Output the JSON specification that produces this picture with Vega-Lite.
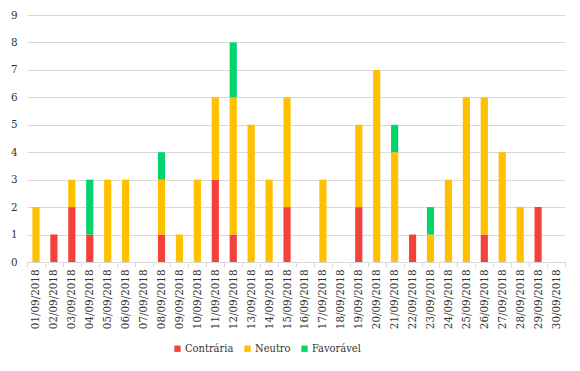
{
  "$schema": "https://vega.github.io/schema/vega-lite/v6.json",
  "width": 538,
  "height": 247,
  "autosize": {"type": "none"},
  "padding": {"left": 27, "top": 15, "right": 15, "bottom": 109},
  "background": "white",
  "config": {
    "view": {"stroke": null},
    "font": "DejaVu Serif Condensed",
    "axis": {"labelFont": "DejaVu Serif Condensed", "labelFontSize": 11.5, "labelColor": "#333333"},
    "legend": {"labelFont": "DejaVu Serif Condensed", "labelFontSize": 11, "labelColor": "#333333"}
  },
  "data": {
    "values": [
      {"date": "01/09/2018", "tipo": "Neutro", "n": 2},
      {"date": "02/09/2018", "tipo": "Contrária", "n": 1},
      {"date": "03/09/2018", "tipo": "Contrária", "n": 2},
      {"date": "03/09/2018", "tipo": "Neutro", "n": 1},
      {"date": "04/09/2018", "tipo": "Contrária", "n": 1},
      {"date": "04/09/2018", "tipo": "Favorável", "n": 2},
      {"date": "05/09/2018", "tipo": "Neutro", "n": 3},
      {"date": "06/09/2018", "tipo": "Neutro", "n": 3},
      {"date": "07/09/2018", "tipo": "Neutro", "n": 0},
      {"date": "08/09/2018", "tipo": "Contrária", "n": 1},
      {"date": "08/09/2018", "tipo": "Neutro", "n": 2},
      {"date": "08/09/2018", "tipo": "Favorável", "n": 1},
      {"date": "09/09/2018", "tipo": "Neutro", "n": 1},
      {"date": "10/09/2018", "tipo": "Neutro", "n": 3},
      {"date": "11/09/2018", "tipo": "Contrária", "n": 3},
      {"date": "11/09/2018", "tipo": "Neutro", "n": 3},
      {"date": "12/09/2018", "tipo": "Contrária", "n": 1},
      {"date": "12/09/2018", "tipo": "Neutro", "n": 5},
      {"date": "12/09/2018", "tipo": "Favorável", "n": 2},
      {"date": "13/09/2018", "tipo": "Neutro", "n": 5},
      {"date": "14/09/2018", "tipo": "Neutro", "n": 3},
      {"date": "15/09/2018", "tipo": "Contrária", "n": 2},
      {"date": "15/09/2018", "tipo": "Neutro", "n": 4},
      {"date": "16/09/2018", "tipo": "Neutro", "n": 0},
      {"date": "17/09/2018", "tipo": "Neutro", "n": 3},
      {"date": "18/09/2018", "tipo": "Neutro", "n": 0},
      {"date": "19/09/2018", "tipo": "Contrária", "n": 2},
      {"date": "19/09/2018", "tipo": "Neutro", "n": 3},
      {"date": "20/09/2018", "tipo": "Neutro", "n": 7},
      {"date": "21/09/2018", "tipo": "Neutro", "n": 4},
      {"date": "21/09/2018", "tipo": "Favorável", "n": 1},
      {"date": "22/09/2018", "tipo": "Contrária", "n": 1},
      {"date": "23/09/2018", "tipo": "Neutro", "n": 1},
      {"date": "23/09/2018", "tipo": "Favorável", "n": 1},
      {"date": "24/09/2018", "tipo": "Neutro", "n": 3},
      {"date": "25/09/2018", "tipo": "Neutro", "n": 6},
      {"date": "26/09/2018", "tipo": "Contrária", "n": 1},
      {"date": "26/09/2018", "tipo": "Neutro", "n": 5},
      {"date": "27/09/2018", "tipo": "Neutro", "n": 4},
      {"date": "28/09/2018", "tipo": "Neutro", "n": 2},
      {"date": "29/09/2018", "tipo": "Contrária", "n": 2},
      {"date": "30/09/2018", "tipo": "Neutro", "n": 0}
    ]
  },
  "transform": [
    {"calculate": "indexof(['Contrária','Neutro','Favorável'], datum.tipo)", "as": "ord"}
  ],
  "mark": {"type": "bar", "width": {"band": 0.4}},
  "encoding": {
    "x": {
      "field": "date",
      "type": "ordinal",
      "title": null,
      "scale": {"paddingInner": 0, "paddingOuter": 0},
      "axis": {
        "labelAngle": 270,
        "tickBand": "extent",
        "tickSize": 5,
        "tickColor": "#d9d9d9",
        "domainColor": "#d9d9d9",
        "labelPadding": 2
      }
    },
    "y": {
      "field": "n",
      "type": "quantitative",
      "aggregate": "sum",
      "title": null,
      "scale": {"domain": [0, 9]},
      "axis": {
        "values": [0, 1, 2, 3, 4, 5, 6, 7, 8, 9],
        "ticks": false,
        "domain": false,
        "gridColor": "#d9d9d9",
        "gridWidth": 1,
        "labelPadding": 10
      }
    },
    "color": {
      "field": "tipo",
      "type": "nominal",
      "scale": {"domain": ["Contrária", "Neutro", "Favorável"], "range": ["#F4413A", "#FFC000", "#05D36B"]},
      "legend": {
        "title": null,
        "orient": "none",
        "direction": "horizontal",
        "legendX": 145,
        "legendY": 328,
        "symbolType": "square",
        "symbolSize": 40,
        "symbolStrokeWidth": 0,
        "labelOffset": 2,
        "columnPadding": 8
      }
    },
    "order": {"field": "ord", "type": "quantitative"}
  }
}
